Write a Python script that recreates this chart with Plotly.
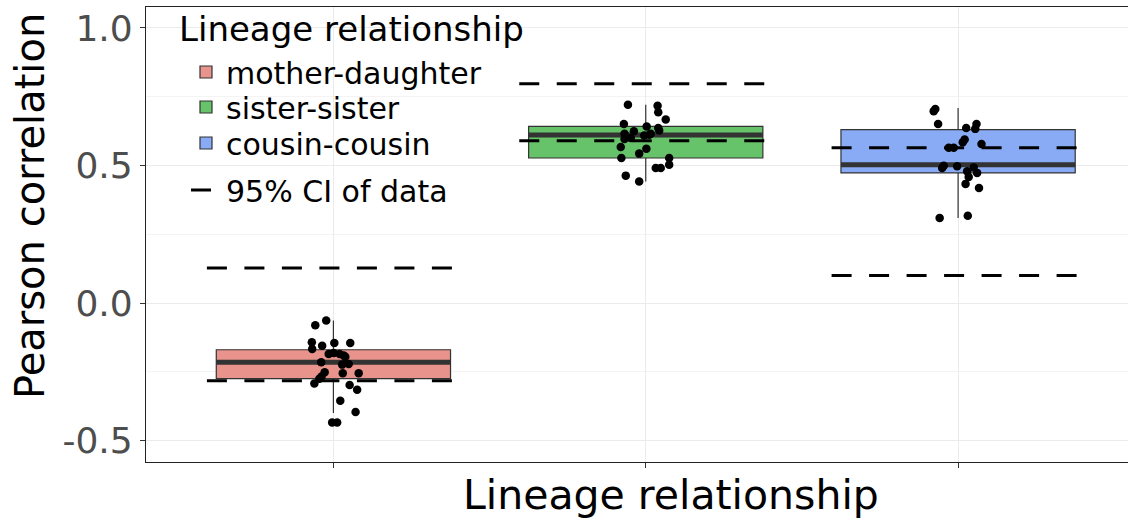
import plotly.graph_objects as go

# ---------------- data ----------------
categories = ["mother-daughter", "sister-sister", "cousin-cousin"]
positions = [1, 2, 3]
fill_colors = ["#E8938B", "#66C369", "#89ABF5"]

# box statistics
q1 = [-0.275, 0.527, 0.473]
median = [-0.215, 0.611, 0.503]
q3 = [-0.170, 0.642, 0.630]
lower_whisker = [-0.400, 0.442, 0.309]
upper_whisker = [-0.064, 0.721, 0.709]

# 95% CI of data (dashed lines)
ci_low = [-0.283, 0.590, 0.100]
ci_high = [0.127, 0.797, 0.564]

# jittered points
md_y = [-0.081, -0.064, -0.143, -0.155, -0.145, -0.145, -0.167, -0.185, -0.182,
        -0.185, -0.191, -0.195, -0.215, -0.224, -0.222, -0.252, -0.255, -0.255,
        -0.267, -0.275, -0.293, -0.298, -0.315, -0.355, -0.396, -0.434, -0.434]
md_jit = [-0.058, -0.023, -0.069, -0.036, 0.003, 0.054, -0.068, -0.015, 0.001,
          0.020, 0.033, 0.038, -0.039, 0.028, 0.049, -0.028, 0.030, 0.081,
          -0.038, -0.045, -0.061, 0.052, 0.076, 0.022, 0.071, -0.004, 0.012]

ss_y = [0.721, 0.717, 0.693, 0.667, 0.651, 0.642, 0.624, 0.636, 0.627, 0.615,
        0.600, 0.596, 0.612, 0.609, 0.615, 0.567, 0.561, 0.543, 0.527, 0.527,
        0.503, 0.491, 0.491, 0.463, 0.442]
ss_jit = [-0.057, 0.038, 0.040, 0.064, -0.070, 0.003, -0.038, 0.040, 0.043, -0.068,
          -0.048, -0.068, 0.011, -0.005, 0.016, -0.080, 0.002, -0.021, -0.078, 0.075,
          0.075, 0.032, 0.048, -0.064, -0.021]

cc_y = [0.705, 0.697, 0.651, 0.636, 0.651, 0.633, 0.594, 0.584, 0.578, 0.564,
        0.564, 0.499, 0.491, 0.497, 0.493, 0.479, 0.473, 0.458, 0.433, 0.418,
        0.309, 0.317]
cc_jit = [-0.073, -0.078, -0.064, 0.026, 0.059, 0.055, 0.021, 0.015, 0.075, -0.030,
          -0.014, -0.046, -0.051, -0.003, 0.050, 0.029, 0.061, 0.034, 0.024, 0.067,
          -0.059, 0.031]

point_y = [md_y, ss_y, cc_y]
point_jit = [md_jit, ss_jit, cc_jit]

y_tickvals = [-0.5, 0.0, 0.5, 1.0]
y_ticktext = ["-0.5", "0.0", "0.5", "1.0"]

BOX_W = 0.75
FONT = "DejaVu Sans"
W, H = 1128, 520
L, R, T, B = 146, 0, 7, 58
PW, PH = W - L - R, H - T - B


def px_x(px):
    return (px - L) / PW


def px_y(py):
    return (H - B - py) / PH


fig = go.Figure()

# one legend per box entry so the rows sit where the reference puts them
legend_ids = ["legend", "legend3", "legend4"]

for i, cat in enumerate(categories):
    fig.add_trace(go.Box(
        x=[positions[i]], q1=[q1[i]], median=[median[i]], q3=[q3[i]],
        lowerfence=[lower_whisker[i]], upperfence=[upper_whisker[i]],
        width=BOX_W, whiskerwidth=0, boxpoints=False,
        fillcolor=fill_colors[i], line=dict(color="#333333", width=1.2),
        name=cat, legend=legend_ids[i], hoverinfo="skip",
    ))

# thick median lines
for i in range(3):
    fig.add_trace(go.Scatter(
        x=[positions[i] - BOX_W / 2, positions[i] + BOX_W / 2],
        y=[median[i], median[i]], mode="lines",
        line=dict(color="#333333", width=5), showlegend=False, hoverinfo="skip",
    ))

# dashed CI lines
ci_x, ci_yv = [], []
for i in range(3):
    for v in (ci_low[i], ci_high[i]):
        ci_x += [positions[i] - 0.405, positions[i] + 0.38, None]
        ci_yv += [v, v, None]
fig.add_trace(go.Scatter(
    x=ci_x, y=ci_yv, mode="lines", name="95% CI of data",
    line=dict(color="black", width=3, dash="20px,17.5px"),
    legend="legend2", hoverinfo="skip",
))

# jittered points
for i in range(3):
    fig.add_trace(go.Scatter(
        x=[positions[i] + j for j in point_jit[i]], y=point_y[i], mode="markers",
        marker=dict(color="black", size=8.5), showlegend=False, hoverinfo="skip",
    ))

item_font = dict(size=30, family=FONT, color="black")
common_leg = dict(xanchor="left", yanchor="middle", bgcolor="rgba(0,0,0,0)",
                  font=item_font, borderwidth=0)

fig.update_layout(
    width=W, height=H,
    margin=dict(l=L, r=R, t=T, b=B),
    paper_bgcolor="white", plot_bgcolor="white",
    font=dict(family=FONT, color="black"),
    xaxis=dict(
        range=[0.4, 3.544], tickvals=positions, ticktext=["", "", ""],
        ticks="outside", ticklen=5, tickcolor="#333333", tickwidth=1,
        showline=True, linecolor="#222222", linewidth=1.3, mirror=True,
        showgrid=True, gridcolor="#ebebeb", gridwidth=1.2, zeroline=False,
    ),
    yaxis=dict(
        range=[-0.578, 1.076], tickvals=y_tickvals, ticktext=y_ticktext,
        ticks="outside", ticklen=5, tickcolor="#333333", tickwidth=1,
        tickfont=dict(size=36, color="#4d4d4d", family=FONT),
        showline=True, linecolor="#222222", linewidth=1.3, mirror=True,
        showgrid=True, gridcolor="#ebebeb", gridwidth=1.2, zeroline=False,
        minor=dict(tickvals=[-0.25, 0.25, 0.75], showgrid=True,
                   gridcolor="#f4f4f4", gridwidth=1, ticks=""),
    ),
    legend=dict(x=px_x(186), y=px_y(72), **common_leg),
    legend3=dict(x=px_x(186), y=px_y(107), **common_leg),
    legend4=dict(x=px_x(186), y=px_y(143), **common_leg),
    legend2=dict(x=px_x(186), y=px_y(190), **common_leg),
    annotations=[
        dict(text="Lineage relationship", xref="paper", yref="paper",
             x=px_x(177), y=px_y(29), showarrow=False,
             xanchor="left", yanchor="middle",
             font=dict(size=34, family=FONT, color="black")),
        dict(text="Lineage relationship", xref="paper", yref="paper",
             x=px_x(671), y=0, yshift=-33, showarrow=False,
             xanchor="center", yanchor="middle", font=dict(size=41, family=FONT)),
        dict(text="Pearson correlation", xref="paper", yref="paper",
             x=0, xshift=-116, y=px_y(206), textangle=-90, showarrow=False,
             xanchor="center", yanchor="middle", font=dict(size=40, family=FONT)),
    ],
)

fig.write_html("out.html")
